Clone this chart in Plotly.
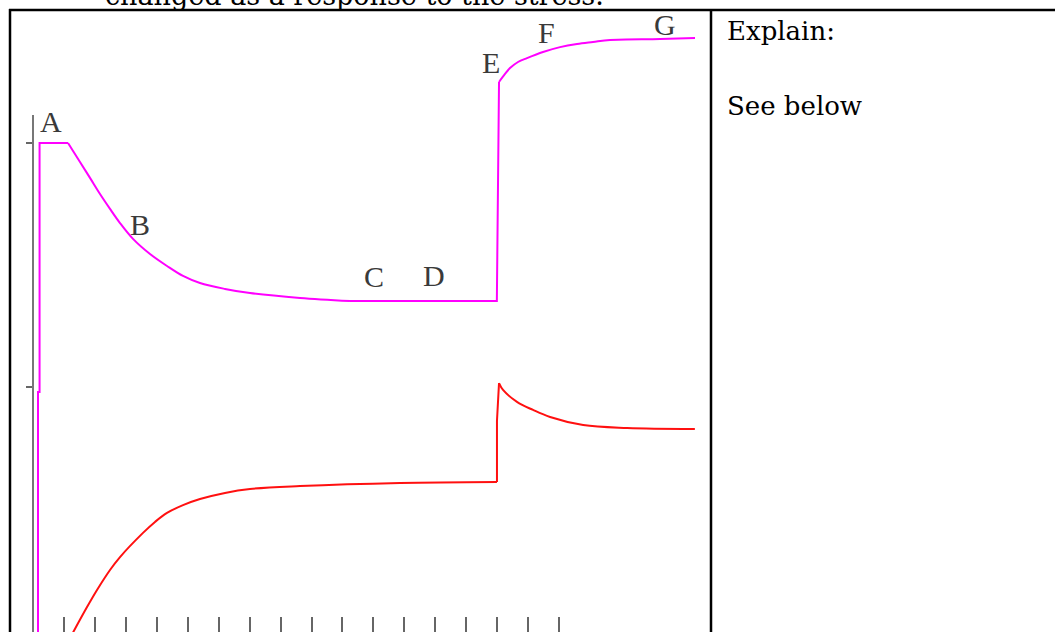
import plotly.graph_objects as go

# Concentration vs. time: magenta and red species, stress applied at t = 15
magenta_t = [0.16, 0.16, 0.21, 0.21,
             1.13, 1.517, 1.840, 2.164, 2.487, 2.810, 3.230, 3.780, 4.329, 4.846,
             5.395, 6.203, 7.011, 8.627, 10.243,
             14.99,
             15.060, 15.254, 15.415, 15.674, 15.965, 16.482, 17.032, 17.581, 18.098,
             18.648, 20.264, 21.395]
magenta_c = [-0.05, 0.98, 0.98, 2.0,
             2.0, 1.922, 1.857, 1.791, 1.730, 1.672, 1.607, 1.545, 1.496, 1.455,
             1.426, 1.402, 1.385, 1.365, 1.352,
             1.352,
             2.250, 2.283, 2.307, 2.332, 2.348, 2.373, 2.393, 2.406, 2.414,
             2.422, 2.426, 2.430]

red_t = [1.19, 1.744, 2.067, 2.487, 2.810, 3.553, 3.941, 4.329, 4.846, 5.395, 6.203,
         7.011, 8.627, 11.860, 14.994,
         14.994,
         15.060, 15.19, 15.64, 16.16, 16.71, 17.78, 19.20, 21.39]
red_c = [-0.03, 0.098, 0.168, 0.250, 0.303, 0.402, 0.447, 0.484, 0.516, 0.541, 0.566,
         0.582, 0.594, 0.607, 0.611,
         0.861,
         1.016, 0.988, 0.939, 0.906, 0.877, 0.844, 0.832, 0.828]

# Point labels on the magenta curve
label_text = ["A", "B", "C", "D", "E", "F", "G"]
label_t = [0.58, 3.46, 11.02, 12.96, 14.80, 16.61, 20.42]
label_c = [2.088, 1.664, 1.451, 1.455, 2.330, 2.451, 2.484]

time_ticks = list(range(1, 18))
conc_ticks = [1, 2]

# Pieces of each curve: (first index, last index, line shape);
# steps stay straight, relaxations are smoothed.
magenta_pieces = [(0, 4, "linear"), (4, 18, "spline"), (18, 20, "linear"), (20, 31, "spline")]
red_pieces = [(0, 14, "spline"), (14, 16, "linear"), (16, 23, "spline")]

W, H = 1055, 632

fig = go.Figure()


def add_curve(ts, cs, pieces, color):
    for i0, i1, shape in pieces:
        fig.add_trace(go.Scatter(x=ts[i0:i1 + 1], y=cs[i0:i1 + 1], mode="lines",
                                 line=dict(color=color, width=2, shape=shape,
                                           smoothing=1.0),
                                 hoverinfo="skip", showlegend=False))


add_curve(magenta_t, magenta_c, magenta_pieces, "#ff00ff")
add_curve(red_t, red_c, red_pieces, "#ff1010")

# carrier trace for the visible concentration axis (its own short subplot)
fig.add_trace(go.Scatter(x=[0], y=[0], xaxis="x2", yaxis="y2", mode="lines",
                         opacity=0, hoverinfo="skip", showlegend=False))

for txt, t, c in zip(label_text, label_t, label_c):
    fig.add_annotation(x=t, y=c, xref="x", yref="y", text=txt, showarrow=False,
                       xanchor="center", yanchor="middle",
                       font=dict(family="Liberation Serif", size=30, color="#3a3a3a"))

# Table frame around the graph and the explanation cell
frame = dict(color="black", width=2.5)
fig.add_shape(type="line", xref="paper", yref="paper",
              x0=9 / W, x1=1.0, y0=1 - 10 / H, y1=1 - 10 / H, line=frame)
fig.add_shape(type="line", xref="paper", yref="paper",
              x0=10 / W, x1=10 / W, y0=0, y1=1 - 9 / H, line=frame)
fig.add_shape(type="line", xref="paper", yref="paper",
              x0=711 / W, x1=711 / W, y0=0, y1=1 - 9 / H, line=frame)

serif = "DejaVu Serif"
fig.add_annotation(x=103 / W, y=1 + 4 / H, xref="paper", yref="paper",
                   text="changed as a response to the stress.", showarrow=False,
                   xanchor="left", yanchor="middle",
                   font=dict(family=serif, size=27, color="black"))
fig.add_annotation(x=725 / W, y=1 - 31 / H, xref="paper", yref="paper",
                   text="Explain:", showarrow=False, xanchor="left", yanchor="middle",
                   font=dict(family=serif, size=26, color="black"))
fig.add_annotation(x=725 / W, y=1 - 106 / H, xref="paper", yref="paper",
                   text="See below", showarrow=False, xanchor="left", yanchor="middle",
                   font=dict(family=serif, size=26, color="black"))

px_per_t = 30.94
t_origin = 33.06
px_per_c = 244.0
c_origin = 631.0

x_range = [-t_origin / px_per_t, (W - t_origin) / px_per_t]
y_range = [(c_origin - H) / px_per_c, c_origin / px_per_c]
axis_top = 115
y2_range = [(c_origin - H) / px_per_c, (c_origin - axis_top) / px_per_c]

fig.update_layout(
    width=W, height=H,
    margin=dict(l=0, r=0, t=0, b=0, pad=0),
    paper_bgcolor="white", plot_bgcolor="rgba(0,0,0,0)",
    xaxis=dict(range=x_range, domain=[0, 1], tickvals=time_ticks, ticks="inside",
               ticklen=15, tickwidth=2, tickcolor="#666666", showticklabels=False,
               showgrid=False, zeroline=False, showline=False, fixedrange=True),
    yaxis=dict(range=y_range, domain=[0, 1], showticklabels=False, ticks="",
               showgrid=False, zeroline=False, showline=False, fixedrange=True),
    xaxis2=dict(range=x_range, domain=[0, 1], anchor="y2", visible=False,
                fixedrange=True),
    yaxis2=dict(range=y2_range, domain=[0, (H - axis_top) / H],
                anchor="free", position=t_origin / W, side="left",
                tickvals=conc_ticks, ticks="outside", ticklen=6, tickwidth=2,
                tickcolor="#666666", showline=True, linewidth=2, linecolor="#777777",
                showticklabels=False, showgrid=False, zeroline=False, fixedrange=True),
)

fig.write_html("out.html")
